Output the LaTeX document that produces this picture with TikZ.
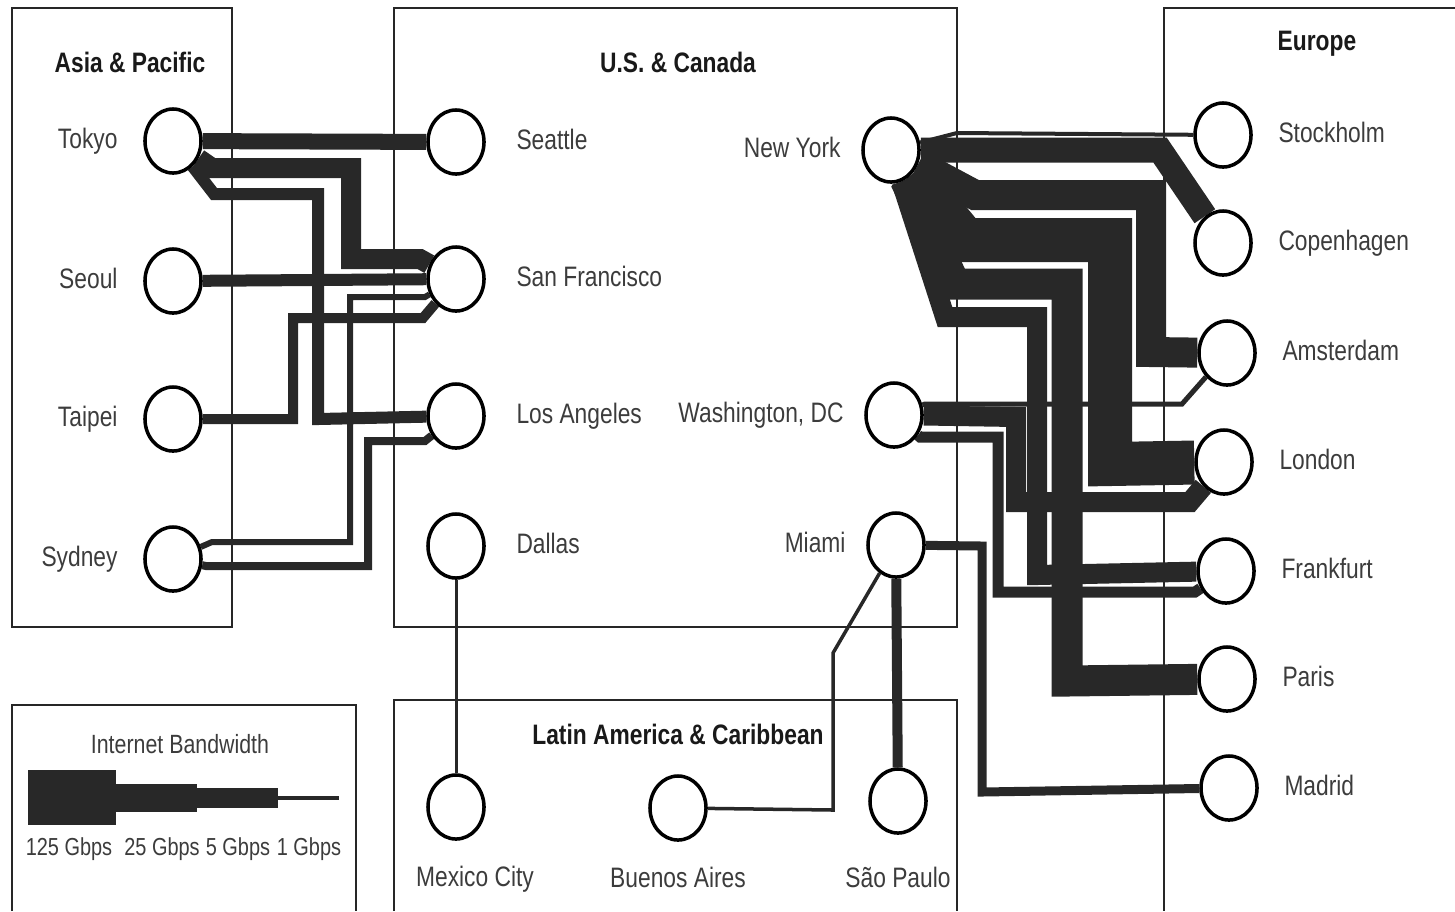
\documentclass[tikz,border=0pt]{standalone}
\usepackage{fontspec}
\setmainfont{Liberation Sans}[FakeStretch=0.81]
\usetikzlibrary{positioning,shapes.geometric,backgrounds}
\definecolor{linkgray}{RGB}{40,40,40}
\definecolor{labelgray}{RGB}{60,60,60}
\tikzset{
  % Base styles
  map base/.style={x=0.01cm, y=-0.01cm, line join=miter},
  % City nodes
  city/.style={ellipse, draw=black, line width=1pt, fill=white, minimum width=5.6mm, minimum height=6.4mm, inner sep=0pt},
  city label/.style={inner sep=0pt, text height=6.2pt, text depth=1.7pt, text=labelgray, font=\fontsize{8pt}{9pt}\selectfont},
  % Regions
  region box/.style={draw=black!85, line width=0.6pt},
  region title/.style={inner sep=0pt, text=black!90, font=\bfseries\fontsize{8pt}{9pt}\selectfont},
  % Bandwidth links (width in px)
  link/.style={draw=linkgray, line width=#1*0.2845pt},
  % Legend
  legend text/.style={inner sep=0pt, text=labelgray, font=\fontsize{7pt}{8pt}\selectfont},
}

\begin{document}
\begin{tikzpicture}[map base]
  \useasboundingbox (0,0) rectangle (1455,911);
  % --- regions ---
  \begin{scope}[on background layer]
    \draw[region box] (12,8) rectangle (232,627);
    \draw[region box] (394,8) rectangle (957,627);
    \draw[region box] (1455,8) -- (1164,8) -- (1164,911);
    \draw[region box] (394,911) -- (394,700) -- (957,700) -- (957,911);
    \draw[region box] (12,911) -- (12,705) -- (356,705) -- (356,911);
  \end{scope}
  \node[region title] (asia) at (130,62) {Asia \& Pacific};
  \node[region title] (usca) at (678,62) {U.S. \& Canada};
  \node[region title, anchor=west] (europe) at (1277,44) {Europe};
  \node[region title] (latam) at (678,734) {Latin America \& Caribbean};

  % --- cities ---
  \node[city] (tokyo) at (173,141) {};
  \node[city] (seoul) at (173,281) {};
  \node[city] (taipei) at (173,419) {};
  \node[city] (sydney) at (173,559) {};
  \node[city] (seattle) at (456,142) {};
  \node[city] (sf) at (456,279) {};
  \node[city] (la) at (456,416) {};
  \node[city] (dallas) at (456,546) {};
  \node[city] (ny) at (891,150) {};
  \node[city] (dc) at (894,415) {};
  \node[city] (miami) at (896,545) {};
  \node[city] (stockholm) at (1223,135) {};
  \node[city] (copenhagen) at (1223,243) {};
  \node[city] (amsterdam) at (1227,353) {};
  \node[city] (london) at (1224,462) {};
  \node[city] (frankfurt) at (1226,571) {};
  \node[city] (paris) at (1227,679) {};
  \node[city] (madrid) at (1229,788) {};
  \node[city] (mexico) at (456,807) {};
  \node[city] (buenosaires) at (678,808) {};
  \node[city] (saopaulo) at (898,801) {};

  % --- labels ---
  \node[city label, left=2.5mm of tokyo] {Tokyo};
  \node[city label, left=2.5mm of seoul] {Seoul};
  \node[city label, left=2.5mm of taipei] {Taipei};
  \node[city label, left=2.5mm of sydney] {Sydney};
  \node[city label, right=3mm of seattle] {Seattle};
  \node[city label, right=3mm of sf] {San Francisco};
  \node[city label, right=3mm of la] {Los Angeles};
  \node[city label, right=3mm of dallas] {Dallas};
  \node[city label, left=2mm of ny] {New York};
  \node[city label, left=2mm of dc] {Washington, DC};
  \node[city label, left=2mm of miami] {Miami};
  \node[city label, right=2.5mm of stockholm] {Stockholm};
  \node[city label, right=2.5mm of copenhagen] {Copenhagen};
  \node[city label, right=2.5mm of amsterdam] {Amsterdam};
  \node[city label, right=2.5mm of london] {London};
  \node[city label, right=2.5mm of frankfurt] {Frankfurt};
  \node[city label, right=2.5mm of paris] {Paris};
  \node[city label, right=2.5mm of madrid] {Madrid};
  \node[city label, below=2.3mm of mexico, xshift=1.9mm] {Mexico City};
  \node[city label, below=2.3mm of buenosaires] {Buenos Aires};
  \node[city label, below=2.3mm of saopaulo, yshift=-0.7mm] {São Paulo};

  % --- links ---
  \begin{scope}[on background layer]
    % Asia - U.S.
    \draw[link=16] (tokyo) -- (seattle);
    \draw[link=20] (tokyo) -- (212,168) -- (351,168) -- (351,259) -- (420,259) -- (sf);
    \draw[link=12] (tokyo) -- (214,194) -- (318,194) -- (318,419) -- (la);
    \draw[link=12] (seoul) -- (sf);
    \draw[link=10] (taipei) -- (293,419) -- (293,318) -- (423,318) -- (sf);
    \draw[link=6] (sydney) -- (212,542) -- (350,542) -- (350,297) -- (425,297) -- (sf);
    \draw[link=8] (sydney) -- (206,566) -- (368,566) -- (368,441) -- (425,441) -- (la);
    % U.S. - Latin America
    \draw[link=3] (dallas) -- (mexico);
    \draw[link=3.5] (miami) -- (833,653) -- (833,810) -- (buenosaires);
    \draw[link=10] (miami) -- (saopaulo);
    % U.S. - Europe
    \draw[link=4] (ny) -- (957,133) -- (stockholm);
    \draw[link=25] (ny) -- (1160,150) -- (copenhagen);
    \draw[link=30] (ny) -- (975,195) -- (1151,195) -- (1151,352) -- (amsterdam);
    \draw[link=44] (ny) -- (965,240) -- (1110,240) -- (1110,464) -- (london);
    \draw[link=31] (ny) -- (955,284) -- (1067,284) -- (1067,681) -- (paris);
    \draw[link=20] (ny) -- (945,317) -- (1037,317) -- (1037,575) -- (frankfurt);
    \draw[link=5] (dc) -- (925,404) -- (1182,404) -- (amsterdam);
    \draw[link=20] (dc) -- (1016,417) -- (1016,502) -- (1190,502) -- (london);
    \draw[link=11] (dc) -- (920,437) -- (998,437) -- (998,592) -- (1195,592) -- (frankfurt);
    \draw[link=9] (miami) -- (982,546) -- (982,792) -- (madrid);
  \end{scope}

  % --- legend ---
  \node[legend text, font=\fontsize{7.5pt}{9pt}\selectfont] (legend) at (180,744) {Internet Bandwidth};
  \fill[linkgray] (28,770) rectangle (116,825);
  \fill[linkgray] (116,784) rectangle (197,812);
  \fill[linkgray] (197,788) rectangle (278,808);
  \fill[linkgray] (278,796) rectangle (339,800);
  \node[legend text] (g125) at (69,849) {125 Gbps};
  \node[legend text] (g25) at (162,849) {25 Gbps};
  \node[legend text] (g5) at (238,849) {5 Gbps};
  \node[legend text] (g1) at (309,849) {1 Gbps};
\end{tikzpicture}
\end{document}
